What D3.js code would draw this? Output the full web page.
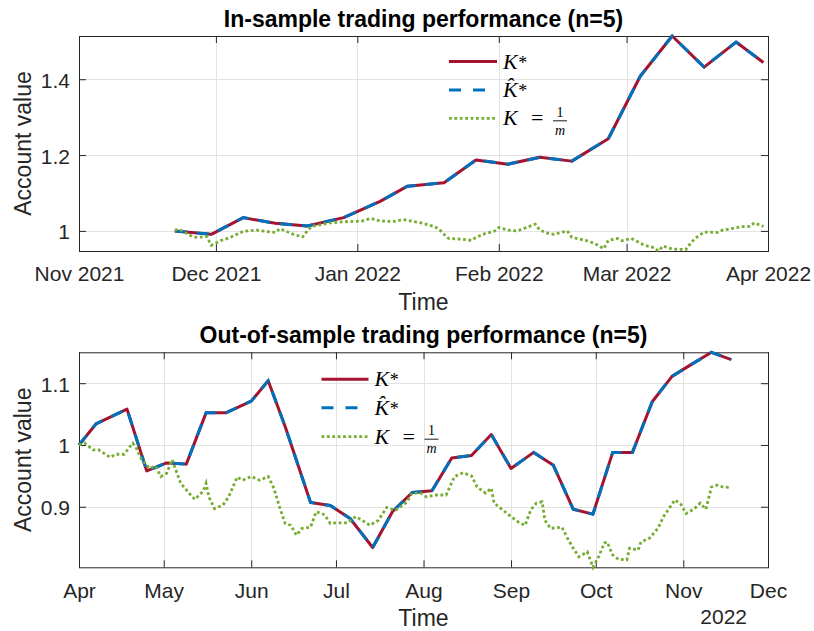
<!DOCTYPE html>
<html>
<head>
<meta charset="utf-8">
<script src="https://cdn.jsdelivr.net/npm/d3@7"></script>
<style>
  html, body { margin: 0; padding: 0; background: #fff; }
  svg { display: block; }
</style>
</head>
<body>
<svg id="chart" width="814" height="631"></svg>
<script>
// ---------------- DATA ----------------
// In-sample panel
const inSampleDates = ["2021-11-22","2021-11-30","2021-12-07","2021-12-14","2021-12-21","2021-12-29","2022-01-06","2022-01-12","2022-01-20","2022-01-27",
                       "2022-02-03","2022-02-10","2022-02-17","2022-02-25","2022-03-04","2022-03-11","2022-03-18","2022-03-25","2022-03-31"];
const inSampleKStar = [1.000,0.991,1.035,1.020,1.013,1.035,1.078,1.118,1.127,1.187,
                       1.176,1.194,1.184,1.243,1.408,1.514,1.432,1.498,1.444];
const inSampleKHat  = [1.000,0.991,1.035,1.020,1.013,1.035,1.078,1.118,1.127,1.187,
                       1.176,1.194,1.184,1.243,1.408,1.514,1.432,1.498,1.444];
const inSampleEqualDates = [
  "2021-11-22","2021-11-23","2021-11-26","2021-11-27","2021-11-29","2021-11-30","2021-12-02","2021-12-04","2021-12-07","2021-12-10",
  "2021-12-13","2021-12-14","2021-12-15","2021-12-18","2021-12-20","2021-12-21","2021-12-22","2021-12-26","2021-12-29","2022-01-02",
  "2022-01-04","2022-01-06","2022-01-09","2022-01-11","2022-01-15","2022-01-18","2022-01-19","2022-01-20","2022-01-21","2022-01-24",
  "2022-01-26","2022-01-27","2022-01-29","2022-01-31","2022-02-01","2022-02-03","2022-02-05","2022-02-06","2022-02-09","2022-02-10",
  "2022-02-12","2022-02-13","2022-02-16","2022-02-17","2022-02-20","2022-02-22","2022-02-24","2022-02-25","2022-02-27","2022-02-28",
  "2022-03-02","2022-03-03","2022-03-05","2022-03-07","2022-03-08","2022-03-09","2022-03-11","2022-03-14","2022-03-15","2022-03-16",
  "2022-03-18","2022-03-21","2022-03-22","2022-03-24","2022-03-26","2022-03-28","2022-03-29","2022-03-31"];
const inSampleEqual = [
  1.002,1.004,0.984,0.983,0.985,0.962,0.974,0.982,0.999,1.002,
  0.997,0.996,1.006,0.991,0.984,1.000,1.012,1.021,1.024,1.026,
  1.033,1.026,1.025,1.030,1.021,1.011,1.003,0.991,0.980,0.978,
  0.975,0.983,0.993,0.999,1.009,1.002,1.000,1.004,1.018,1.002,
  0.993,0.991,1.000,0.983,0.975,0.967,0.953,0.975,0.980,0.974,
  0.980,0.974,0.962,0.956,0.947,0.960,0.952,0.951,0.967,0.980,
  0.997,0.996,1.002,1.006,1.011,1.012,1.021,1.012];
const inSampleTicks = ["2021-11-01","2021-12-01","2022-01-01","2022-02-01","2022-03-01","2022-04-01"];
const inSampleYTicks = [1, 1.2, 1.4];

// Out-of-sample panel
const outSampleDates = ["2022-04-01","2022-04-07","2022-04-18","2022-04-25","2022-05-02","2022-05-09","2022-05-16","2022-05-23","2022-06-01","2022-06-07",
                        "2022-06-13","2022-06-22","2022-06-29","2022-07-06","2022-07-14","2022-07-21","2022-07-28","2022-08-04","2022-08-11","2022-08-18",
                        "2022-08-25","2022-09-01","2022-09-09","2022-09-16","2022-09-23","2022-09-30","2022-10-07","2022-10-14","2022-10-21","2022-10-28",
                        "2022-11-03","2022-11-11","2022-11-18"];
const outSampleKStar = [1.000,1.034,1.058,0.958,0.971,0.969,1.052,1.052,1.071,1.104,
                        1.030,0.907,0.902,0.881,0.834,0.892,0.923,0.926,0.979,0.983,
                        1.017,0.962,0.988,0.967,0.896,0.888,0.988,0.988,1.070,1.111,
                        1.128,1.150,1.138];
const outSampleKHat  = [1.000,1.034,1.058,0.958,0.971,0.969,1.052,1.052,1.071,1.104,
                        1.030,0.907,0.902,0.881,0.834,0.892,0.923,0.926,0.979,0.983,
                        1.017,0.962,0.988,0.967,0.896,0.888,0.988,0.988,1.070,1.111,
                        1.128,1.150,1.138];
const outSampleEqualDates = [
  "2022-04-01","2022-04-03","2022-04-06","2022-04-08","2022-04-12","2022-04-14","2022-04-17","2022-04-20","2022-04-21","2022-04-23",
  "2022-04-26","2022-04-28","2022-04-30","2022-05-02","2022-05-04","2022-05-07","2022-05-10","2022-05-12","2022-05-15","2022-05-16",
  "2022-05-17","2022-05-19","2022-05-22","2022-05-24","2022-05-27","2022-05-29","2022-06-01","2022-06-04","2022-06-07","2022-06-09",
  "2022-06-11","2022-06-13","2022-06-15","2022-06-17","2022-06-19","2022-06-22","2022-06-24","2022-06-27","2022-06-29","2022-07-01",
  "2022-07-05","2022-07-08","2022-07-11","2022-07-13","2022-07-16","2022-07-19","2022-07-22","2022-07-26","2022-07-28","2022-07-31",
  "2022-08-02","2022-08-05","2022-08-09","2022-08-12","2022-08-15","2022-08-18","2022-08-20","2022-08-23","2022-08-25","2022-08-26",
  "2022-08-29","2022-09-01","2022-09-04","2022-09-06","2022-09-08","2022-09-10","2022-09-12","2022-09-13","2022-09-15","2022-09-19",
  "2022-09-21","2022-09-23","2022-09-25","2022-09-28","2022-09-30","2022-10-02","2022-10-04","2022-10-05","2022-10-07","2022-10-09",
  "2022-10-12","2022-10-13","2022-10-16","2022-10-17","2022-10-20","2022-10-23","2022-10-25","2022-10-29","2022-10-31","2022-11-02",
  "2022-11-05","2022-11-07","2022-11-09","2022-11-11","2022-11-13","2022-11-15","2022-11-18"];
const outSampleEqual = [
  1.000,1.003,0.992,0.992,0.980,0.985,0.985,1.003,0.998,0.978,
  0.962,0.966,0.949,0.954,0.976,0.938,0.922,0.912,0.925,0.938,
  0.916,0.897,0.903,0.916,0.948,0.943,0.949,0.943,0.949,0.930,
  0.900,0.873,0.870,0.854,0.865,0.867,0.892,0.887,0.873,0.874,
  0.874,0.884,0.876,0.870,0.878,0.899,0.894,0.907,0.922,0.922,
  0.916,0.919,0.919,0.949,0.955,0.950,0.932,0.922,0.930,0.906,
  0.895,0.884,0.874,0.870,0.895,0.906,0.908,0.878,0.865,0.867,
  0.849,0.833,0.819,0.827,0.802,0.819,0.841,0.843,0.822,0.815,
  0.814,0.833,0.830,0.843,0.849,0.865,0.884,0.911,0.905,0.889,
  0.897,0.906,0.896,0.932,0.935,0.932,0.931];
const outSampleTicks = ["2022-04-01","2022-05-01","2022-06-01","2022-07-01","2022-08-01","2022-09-01","2022-10-01","2022-11-01","2022-12-01"];
const outSampleYTicks = [0.9, 1, 1.1];

const titles = ["In-sample trading performance (n=5)", "Out-of-sample trading performance (n=5)"];
const xLabel = "Time";
const yLabel = "Account value";
const secondaryXLabel = "2022";

// ---------------- STYLE ----------------
const SANS = "'Liberation Sans', Arial, Helvetica, sans-serif";
const SERIF = "'Liberation Serif', 'Times New Roman', serif";
const TXT = "#262626";
const RED = "#A2142F", BLUE = "#0072BD", GREEN = "#77AC30";
const GRID = "#e3e3e3";

const parse = d3.timeParse("%Y-%m-%d");
const svg = d3.select("#chart");
svg.append("rect").attr("width", 814).attr("height", 631).attr("fill", "#fff");

function zip(dates, vals) { return dates.map((d, i) => ({ date: parse(d), value: vals[i] })); }

function drawPanel(p) {
  const g = svg.append("g");
  const ticks = p.ticks.map(parse);
  const x = d3.scaleTime().domain([ticks[0], ticks[ticks.length - 1]]).range([p.left, p.right]);
  const y = d3.scaleLinear()
    .domain(d3.extent([...p.kstar, ...p.khat, ...p.equal]))
    .range([p.bottom, p.top]);

  // grid
  g.append("g").selectAll("line").data(ticks).join("line")
    .attr("x1", d => Math.round(x(d)) + 0.5).attr("x2", d => Math.round(x(d)) + 0.5)
    .attr("y1", p.top).attr("y2", p.bottom)
    .attr("stroke", GRID).attr("stroke-width", 1);
  g.append("g").selectAll("line").data(p.yTicks).join("line")
    .attr("y1", d => Math.round(y(d)) + 0.5).attr("y2", d => Math.round(y(d)) + 0.5)
    .attr("x1", p.left).attr("x2", p.right)
    .attr("stroke", GRID).attr("stroke-width", 1);

  // axes (ticks inside, mirrored)
  const styleAxis = sel => {
    sel.attr("font-family", SANS).attr("font-size", 21);
    sel.select(".domain").remove();
    sel.selectAll(".tick line").attr("stroke", TXT);
    sel.selectAll(".tick text").attr("fill", TXT);
  };
  g.append("g").attr("transform", `translate(0,${p.bottom})`)
    .call(d3.axisBottom(x).tickValues(ticks).tickFormat(d3.timeFormat(p.fmt))
      .tickSizeInner(-7).tickSizeOuter(0).tickPadding(15.5))
    .call(styleAxis);
  g.append("g").attr("transform", `translate(0,${p.top})`)
    .call(d3.axisTop(x).tickValues(ticks).tickFormat("").tickSizeInner(-7).tickSizeOuter(0))
    .call(styleAxis);
  g.append("g").attr("transform", `translate(${p.left},0)`)
    .call(d3.axisLeft(y).tickValues(p.yTicks).tickFormat(d3.format("~g"))
      .tickSizeInner(-7).tickSizeOuter(0).tickPadding(9))
    .call(styleAxis)
    .selectAll(".tick text").attr("dy", "0.38em");
  g.append("g").attr("transform", `translate(${p.right},0)`)
    .call(d3.axisRight(y).tickValues(p.yTicks).tickFormat("").tickSizeInner(-7).tickSizeOuter(0))
    .call(styleAxis);

  // box
  g.append("rect")
    .attr("x", p.left + 0.5).attr("y", p.top + 0.5)
    .attr("width", p.right - p.left).attr("height", p.bottom - p.top)
    .attr("fill", "none").attr("stroke", TXT).attr("stroke-width", 1);

  // lines
  const line = d3.line().x(d => x(d.date)).y(d => y(d.value));
  g.append("path").datum(zip(p.dates, p.kstar)).attr("d", line)
    .attr("fill", "none").attr("stroke", RED).attr("stroke-width", 3).attr("stroke-linejoin", "round");
  g.append("path").datum(zip(p.dates, p.khat)).attr("d", line)
    .attr("fill", "none").attr("stroke", BLUE).attr("stroke-width", 3).attr("stroke-dasharray", "12,10");
  g.append("path").datum(zip(p.equalDates, p.equal)).attr("d", line)
    .attr("fill", "none").attr("stroke", GREEN).attr("stroke-width", 2.8).attr("stroke-dasharray", "2.8,2.6");

  // title & labels
  const cx = (p.left + p.right) / 2;
  g.append("text").attr("x", cx).attr("y", p.titleY).attr("text-anchor", "middle")
    .attr("font-family", SANS).attr("font-weight", "bold").attr("font-size", 23).attr("fill", "#000")
    .text(p.title);
  g.append("text").attr("x", cx).attr("y", p.xLabelY).attr("text-anchor", "middle")
    .attr("font-family", SANS).attr("font-size", 23).attr("fill", TXT).text(xLabel);
  g.append("text").attr("transform", `translate(31,${(p.top + p.bottom) / 2}) rotate(-90)`)
    .attr("text-anchor", "middle")
    .attr("font-family", SANS).attr("font-size", 23).attr("fill", TXT).text(yLabel);
  if (p.secondary) {
    g.append("text").attr("x", 747).attr("y", p.secondaryY).attr("text-anchor", "end")
      .attr("font-family", SANS).attr("font-size", 21).attr("fill", TXT).text(p.secondary);
  }

  // legend
  const L = p.legend;
  const rows = L.rows;
  g.append("line").attr("x1", L.x0).attr("x2", L.x1).attr("y1", rows[0]).attr("y2", rows[0])
    .attr("stroke", RED).attr("stroke-width", 3);
  g.append("line").attr("x1", L.x0).attr("x2", L.x1).attr("y1", rows[1]).attr("y2", rows[1])
    .attr("stroke", BLUE).attr("stroke-width", 3).attr("stroke-dasharray", "12,12");
  g.append("line").attr("x1", L.x0).attr("x2", L.x1).attr("y1", rows[2]).attr("y2", rows[2])
    .attr("stroke", GREEN).attr("stroke-width", 2.8).attr("stroke-dasharray", "2.8,2.6");

  const tx = L.x1 + 6;
  // K*
  const t1 = g.append("text").attr("x", tx).attr("y", rows[0] + 7)
    .attr("font-family", SERIF).attr("font-size", 22).attr("fill", "#000");
  t1.append("tspan").attr("font-style", "italic").text("K");
  t1.append("tspan").attr("font-size", 18).attr("dx", 0.5).text("*");
  // K-hat*
  const t2 = g.append("text").attr("x", tx).attr("y", rows[1] + 7)
    .attr("font-family", SERIF).attr("font-size", 22).attr("fill", "#000");
  t2.append("tspan").attr("font-style", "italic").text("K\u0302");
  t2.append("tspan").attr("font-size", 18).attr("dx", 0.5).text("*");
  // K = 1/m
  const fx = tx + 57;
  const t3 = g.append("text").attr("x", tx).attr("y", rows[2] + 7)
    .attr("font-family", SERIF).attr("font-size", 22).attr("fill", "#000");
  t3.append("tspan").attr("font-style", "italic").text("K");
  t3.append("tspan").attr("x", tx + 28).text("=");
  // fraction numerator / denominator as separate, non-overlapping texts
  g.append("text").attr("x", fx).attr("y", rows[2] - 1.5).attr("text-anchor", "middle")
    .attr("font-family", SERIF).attr("font-size", 14).attr("fill", "#000").text("1");
  g.append("text").attr("x", fx).attr("y", rows[2] + 16.5).attr("text-anchor", "middle")
    .attr("font-family", SERIF).attr("font-size", 14).attr("font-style", "italic").attr("fill", "#000").text("m");
  g.append("line").attr("x1", fx - 7).attr("x2", fx + 7).attr("y1", rows[2] + 2.5).attr("y2", rows[2] + 2.5)
    .attr("stroke", "#000").attr("stroke-width", 0.9);
}

drawPanel({
  left: 79, right: 768, top: 36, bottom: 251,
  ticks: inSampleTicks, fmt: "%b %Y", yTicks: inSampleYTicks,
  dates: inSampleDates, kstar: inSampleKStar, khat: inSampleKHat,
  equalDates: inSampleEqualDates, equal: inSampleEqual,
  title: titles[0], titleY: 27, xLabelY: 310,
  legend: { x0: 449, x1: 497, rows: [61.5, 90, 118.3] }
});
drawPanel({
  left: 79, right: 768, top: 352.3, bottom: 567.3,
  ticks: outSampleTicks, fmt: "%b", yTicks: outSampleYTicks,
  dates: outSampleDates, kstar: outSampleKStar, khat: outSampleKHat,
  equalDates: outSampleEqualDates, equal: outSampleEqual,
  title: titles[1], titleY: 343, xLabelY: 626,
  secondary: secondaryXLabel, secondaryY: 624,
  legend: { x0: 321.5, x1: 368.5, rows: [379.3, 407.7, 436.7] }
});
</script>
</body>
</html>
